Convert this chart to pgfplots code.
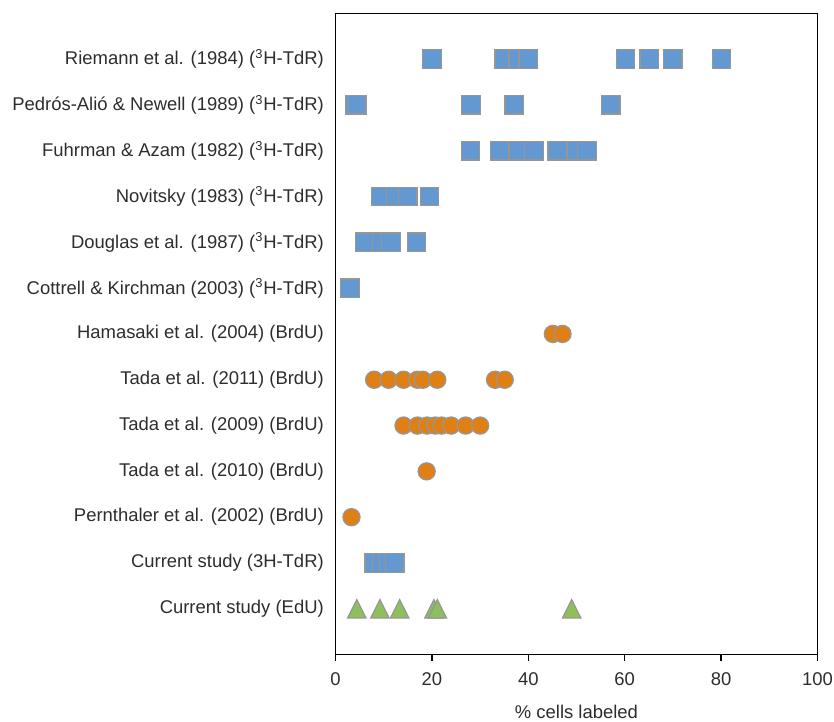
\documentclass[border=0pt]{standalone}
\usepackage{fontspec}
\setmainfont{Liberation Sans}
\usepackage{pgfplots}
\pgfplotsset{compat=1.18}
\definecolor{mblue}{RGB}{99,153,208}
\definecolor{morange}{RGB}{224,128,20}
\definecolor{mgreen}{RGB}{141,191,90}
\definecolor{medge}{RGB}{150,150,150}
\definecolor{txt}{RGB}{45,45,45}
\pgfdeclareplotmark{etri}{%
  \pgfpathmoveto{\pgfqpoint{0pt}{\pgfplotmarksize}}%
  \pgfpathlineto{\pgfqpoint{\pgfplotmarksize}{-\pgfplotmarksize}}%
  \pgfpathlineto{\pgfqpoint{-\pgfplotmarksize}{-\pgfplotmarksize}}%
  \pgfpathclose
  \pgfusepathqfillstroke}
\begin{document}
\begin{tikzpicture}
\begin{axis}[
  scale only axis, width=290pt, height=386pt,
  xmin=0, xmax=100, ymin=-1, ymax=13,
  xtick={0,20,...,100}, ytick={0,...,12},
  xtick pos=lower,
  yticklabels={
    Current study (EdU),
    Current study (3H-TdR),
    Pernthaler et al. (2002) (BrdU),
    Tada et al. (2010) (BrdU),
    Tada et al. (2009) (BrdU),
    Tada et al. (2011) (BrdU),
    Hamasaki et al. (2004) (BrdU),
    Cottrell \& Kirchman (2003) (\textsuperscript{3}H-TdR),
    Douglas et al. (1987) (\textsuperscript{3}H-TdR),
    Novitsky (1983) (\textsuperscript{3}H-TdR),
    Fuhrman \& Azam (1982) (\textsuperscript{3}H-TdR),
    Pedrós-Alió \& Newell (1989) (\textsuperscript{3}H-TdR),
    Riemann et al. (1984) (\textsuperscript{3}H-TdR)},
  tick align=outside, major tick length=3.6pt,
  ytick style={draw=none},
  xtick style={black, line width=0.8pt},
  axis line style={line width=0.9pt},
  tick label style={font=\fontsize{11.1}{13}\selectfont, text=txt},
  xticklabel style={anchor=center, yshift=-11.4pt},
  yticklabel style={anchor=east},
  xlabel={\% cells labeled},
  xlabel style={font=\fontsize{11.1}{13}\selectfont, text=txt, inner sep=0pt, at={(axis description cs:0.5,0)}, anchor=center, yshift=-34.4pt},
  /pgf/number format/assume math mode=true,
  clip=false,
  only marks,
]
\pgfplotsset{sq/.style={mark=square*, mark size=5.55pt, mark options={fill=mblue, draw=medge, line width=0.75pt}}}
\pgfplotsset{ci/.style={mark=*, mark size=5.16pt, mark options={fill=morange, draw=medge, line width=0.75pt}}}
\pgfplotsset{tr/.style={mark=etri, mark size=5.5pt, mark options={fill=mgreen, draw=medge, line width=0.75pt}}}
\addplot[sq] coordinates {(20,12) (35,12) (37.9,12) (40,12) (60.2,12) (65.1,12) (70,12) (80.1,12)};
\addplot[sq] coordinates {(3.9,11) (4.4,11) (28.1,11) (37.1,11) (57.1,11)};
\addplot[sq] coordinates {(28,10) (34,10) (37.9,10) (41.2,10) (46,10) (50,10) (52.2,10)};
\addplot[sq] coordinates {(9.3,9) (12.5,9) (15,9) (19.5,9)};
\addplot[sq] coordinates {(6,8) (9.5,8) (11.5,8) (16.8,8)};
\addplot[sq] coordinates {(3,7)};
\addplot[ci] coordinates {(45.1,6) (47.1,6)};
\addplot[ci] coordinates {(8,5) (11,5) (14.1,5) (17,5) (18.1,5) (21.1,5) (33.1,5) (35.1,5)};
\addplot[ci] coordinates {(14.1,4) (17,4) (19,4) (20.7,4) (22,4) (24,4) (27,4) (30,4)};
\addplot[ci] coordinates {(18.9,3)};
\addplot[ci] coordinates {(3.3,2)};
\addplot[sq] coordinates {(8,1) (9.6,1) (11,1) (12.3,1)};
\addplot[tr] coordinates {(4.4,0) (9.2,0) (13.3,0) (20.4,0) (21.1,0) (49,0)};
\end{axis}
\path (current axis.south west) ++(-202pt,-40pt) coordinate (bl);
\path (current axis.north east) ++(10pt,8pt) coordinate (tr);
\pgfresetboundingbox
\path (bl) rectangle (tr);
\end{tikzpicture}
\end{document}
